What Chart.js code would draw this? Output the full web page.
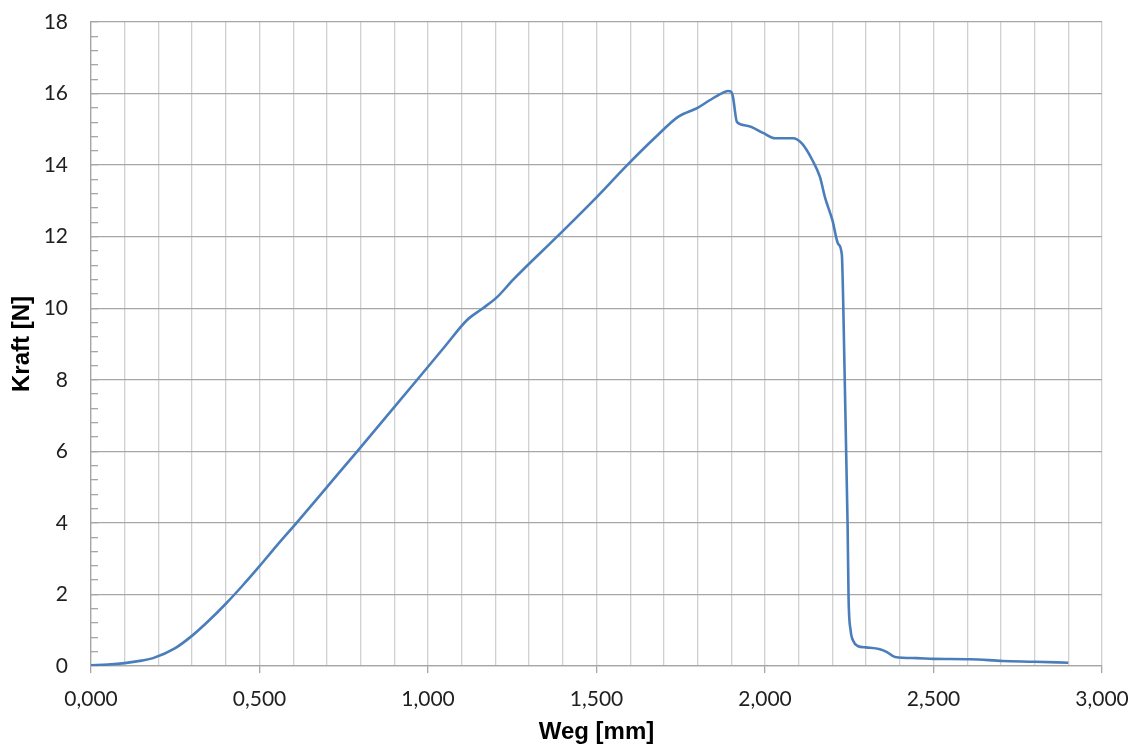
<!DOCTYPE html>
<html>
<head>
<meta charset="utf-8">
<script src="https://cdn.jsdelivr.net/npm/chart.js@4.4.1/dist/chart.umd.min.js"></script>
<style>
html,body{margin:0;padding:0;background:#fff;}
#wrap{width:1140px;height:753px;position:relative;}
</style>
</head>
<body>
<div id="wrap"><canvas id="c"></canvas></div>
<script>
// Weg [mm]
const wegValues = [0, 0.05, 0.1, 0.15, 0.184, 0.25, 0.303, 0.35, 0.4, 0.45, 0.5, 0.55, 0.61, 0.7, 0.79, 0.88, 0.966, 1.05, 1.116, 1.16, 1.205, 1.252, 1.383, 1.5, 1.591, 1.674, 1.742, 1.8, 1.837, 1.87, 1.89, 1.9, 1.905, 1.917, 1.947, 1.994, 2.03, 2.083, 2.11, 2.14, 2.163, 2.178, 2.2, 2.217, 2.228, 2.232, 2.245, 2.248, 2.254, 2.262, 2.275, 2.3, 2.341, 2.362, 2.386, 2.45, 2.5, 2.61, 2.706, 2.8, 2.9];
// Kraft [N]
const kraftValues = [0.02, 0.04, 0.08, 0.15, 0.22, 0.5, 0.87, 1.27, 1.74, 2.25, 2.79, 3.35, 4.0, 5.0, 6.0, 7.01, 7.98, 8.93, 9.67, 9.98, 10.31, 10.79, 12.0, 13.1, 14.0, 14.77, 15.35, 15.6, 15.82, 16.0, 16.07, 16.05, 15.9, 15.2, 15.1, 14.9, 14.75, 14.75, 14.6, 14.15, 13.67, 13.1, 12.46, 11.8, 11.5, 10.2, 4.0, 1.9, 1.0, 0.7, 0.56, 0.52, 0.47, 0.39, 0.25, 0.22, 0.2, 0.19, 0.14, 0.12, 0.09];
const xTickLabelStep = 0.5;   // labelled x ticks
const yTickLabelStep = 2;     // labelled y ticks
const xTitle = 'Weg [mm]';
const yTitle = 'Kraft [N]';

const points = wegValues.map((x, i) => ({x: x, y: kraftValues[i]}));
const isMult = (v, s) => Math.abs(v / s - Math.round(v / s)) < 1e-6;

new Chart(document.getElementById('c'), {
  type: 'line',
  data: {
    datasets: [{
      data: points,
      borderColor: '#4a7ebb',
      borderWidth: 2.6,
      pointRadius: 0,
      fill: false,
      cubicInterpolationMode: 'monotone'
    }]
  },
  options: {
    responsive: true,
    maintainAspectRatio: false,
    animation: false,
    layout: {padding: {top: 22, right: 38, bottom: 0, left: 0}},
    plugins: {legend: {display: false}, tooltip: {enabled: false}},
    scales: {
      x: {
        type: 'linear',
        min: 0, max: 3,
        afterFit: s => { s.height = 87; s.paddingLeft = 0; s.paddingRight = 0; },
        ticks: {
          stepSize: 0.1,
          autoSkip: false,
          maxRotation: 0,
          padding: 14,
          color: '#1f1f1f',
          font: {family: 'Lato', size: 21},
          callback: v => isMult(v, xTickLabelStep) ? v.toFixed(3).replace('.', ',') : ''
        },
        grid: {
          color: '#d0d0d0',
          lineWidth: 1.3,
          tickLength: 7,
          tickColor: ctx => isMult(ctx.tick.value, xTickLabelStep) ? '#a6a6a6' : 'rgba(0,0,0,0)'
        },
        border: {color: '#a6a6a6', width: 1.3},
        title: {
          display: true,
          text: xTitle,
          color: '#000',
          font: {family: 'Liberation Sans', size: 24, weight: 'bold'},
          padding: {top: 0, bottom: 6}
        }
      },
      y: {
        min: 0, max: 18,
        afterFit: s => { s.width = 91; s.paddingTop = 0; s.paddingBottom = 0; },
        ticks: {
          stepSize: 0.4,
          autoSkip: false,
          padding: 30,
          color: '#1f1f1f',
          font: {family: 'Lato', size: 21},
          callback: v => isMult(v, yTickLabelStep) ? String(Math.round(v)) : ''
        },
        grid: {
          color: ctx => isMult(ctx.tick.value, yTickLabelStep) ? '#a6a6a6' : 'rgba(0,0,0,0)',
          lineWidth: 1.3,
          tickLength: -7,
          tickColor: '#a6a6a6'
        },
        border: {color: '#a6a6a6', width: 1.3},
        title: {
          display: true,
          text: yTitle,
          color: '#000',
          font: {family: 'Liberation Sans', size: 24, weight: 'bold'},
          padding: {top: 8, bottom: 0}
        }
      }
    }
  }
});
</script>
</body>
</html>
